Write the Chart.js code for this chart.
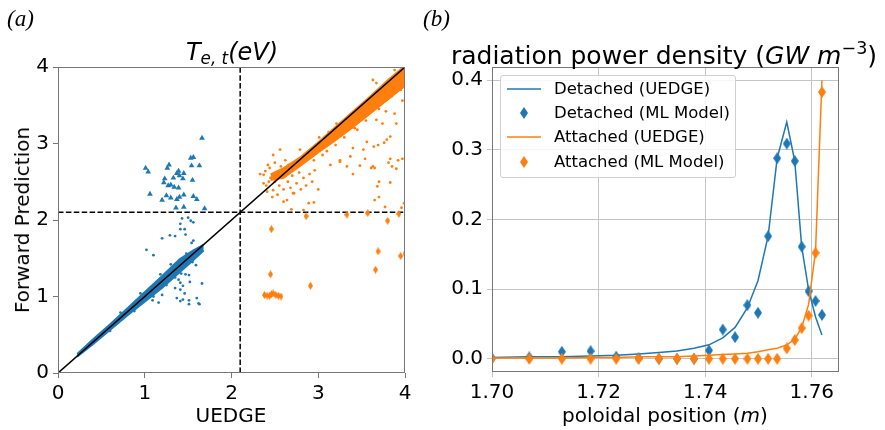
<!DOCTYPE html>
<html>
<head>
<meta charset="utf-8">
<script src="https://cdn.jsdelivr.net/npm/chart.js@4.4.0/dist/chart.umd.min.js"></script>
<style>
  body { margin: 0; background: #fff; font-family: 'DejaVu Sans', sans-serif; }
  #wrap { position: relative; width: 885px; height: 430px; overflow: hidden; }
  canvas { position: absolute; top: 0; }
  #chartA { left: 0; }
  #chartB { left: 440px; }
  .txt { position: absolute; white-space: nowrap; color: #000; line-height: 1; }
  .panel { font-family: 'Liberation Serif', serif; font-style: italic; font-size: 23px; top: 7px; }
  .title { font-size: 24px; top: 40px; transform: translateX(-50%); }
  .xlab { font-size: 20px; top: 405px; transform: translateX(-50%); }
  .ylab { font-size: 20px; left: 22px; top: 220px; transform: translate(-50%, -50%) rotate(-90deg); }
  sub { font-size: 0.7em; vertical-align: -0.25em; }
  sup { font-size: 0.7em; vertical-align: 0.55em; }
  #legend { position: absolute; left: 500px; top: 75px; width: 234px; height: 101px;
            border: 1px solid #d0d0d0; border-radius: 3px; background: rgba(255,255,255,0.85); }
  .row { position: absolute; left: 6px; height: 20px; font-size: 16.5px; line-height: 20px; }
  .row svg { position: absolute; left: 0; top: 4px; }
  .row span { position: absolute; left: 47px; white-space: nowrap; }
</style>
</head>
<body>
<div id="wrap">
  <canvas id="chartA" width="440" height="430"></canvas>
  <canvas id="chartB" width="445" height="430"></canvas>

  <div class="txt panel" style="left:7px">(a)</div>
  <div class="txt panel" style="left:423px">(b)</div>
  <div class="txt title" style="left:232px"><i>T</i><sub><i>e, t</i></sub><i>(eV)</i></div>
  <div class="txt title" style="left:664px; font-size:25px">radiation power density (<i>GW m</i><sup>&minus;3</sup>)</div>
  <div class="txt xlab" style="left:231px">UEDGE</div>
  <div class="txt xlab" style="left:665px">poloidal position (<i>m</i>)</div>
  <div class="txt ylab">Forward Prediction</div>

  <div id="legend">
    <div class="row" style="top:3px"><svg width="34" height="12"><line x1="0" y1="6" x2="34" y2="6" stroke="#1f77b4" stroke-width="1.5"/></svg><span>Detached (UEDGE)</span></div>
    <div class="row" style="top:27px"><svg width="34" height="12"><polygon points="17,0 21,6 17,12 13,6" fill="#1f77b4"/></svg><span>Detached (ML Model)</span></div>
    <div class="row" style="top:51px"><svg width="34" height="12"><line x1="0" y1="6" x2="34" y2="6" stroke="#ff7f0e" stroke-width="1.5"/></svg><span>Attached (UEDGE)</span></div>
    <div class="row" style="top:76px"><svg width="34" height="12"><polygon points="17,0 21,6 17,12 13,6" fill="#ff7f0e"/></svg><span>Attached (ML Model)</span></div>
  </div>
</div>

<script>
// ---------- panel (a): forward prediction vs UEDGE, T_e,t in eV ----------
const axisTicksA = [0, 1, 2, 3, 4];
const threshold = 2.1;

// solid-looking parts of the clouds, given as lower / upper edges
const detBandX  = [0.22, 0.40, 0.60, 0.80, 1.00, 1.20, 1.40, 1.55, 1.68];
const detBandLo = [0.21, 0.37, 0.56, 0.75, 0.93, 1.11, 1.31, 1.46, 1.60];
const detBandHi = [0.25, 0.44, 0.64, 0.85, 1.06, 1.27, 1.49, 1.60, 1.68];

const attBandX  = [2.45, 2.60, 2.80, 3.00, 3.20, 3.40, 3.60, 3.80, 4.00];
const attBandLo = [2.52, 2.55, 2.71, 2.88, 3.04, 3.21, 3.39, 3.57, 3.75];
const attBandHi = [2.60, 2.68, 2.83, 3.02, 3.22, 3.42, 3.62, 3.83, 4.02];

// isolated points [UEDGE, prediction]
const detTriangles = [
  [1.66, 3.07], [1.53, 2.81], [1.56, 2.82], [1.54, 2.71], [1.63, 2.71], [1.01, 2.68],
  [1.04, 2.63], [1.26, 2.68], [1.28, 2.72], [1.39, 2.64], [1.37, 2.61], [1.45, 2.61],
  [1.33, 2.55], [1.40, 2.58], [1.44, 2.54], [1.23, 2.54], [1.22, 2.49], [1.55, 2.52],
  [1.27, 2.45], [1.30, 2.46], [1.34, 2.43], [1.39, 2.42], [1.06, 2.34], [1.25, 2.32],
  [1.30, 2.29], [1.20, 2.26], [1.37, 2.27], [1.40, 2.30], [1.45, 2.33], [1.56, 2.31],
  [1.60, 2.27], [1.36, 2.16], [1.45, 2.17], [1.69, 2.15]
];
const detDots = [
  [1.43, 2.02], [1.50, 2.03], [1.53, 1.99], [1.56, 1.97], [1.41, 1.95], [1.41, 1.88],
  [1.46, 1.88], [1.47, 1.81], [1.29, 1.80], [1.35, 1.79], [1.20, 1.76], [1.56, 1.73],
  [1.54, 1.70], [1.02, 1.61], [1.10, 1.54], [1.59, 1.41], [1.44, 1.37], [1.47, 1.29],
  [1.51, 1.28], [1.39, 1.22], [1.52, 1.19], [1.41, 1.18], [1.66, 1.17], [1.44, 1.14],
  [1.35, 1.11], [1.41, 1.09], [1.46, 1.04], [1.20, 1.02], [1.37, 0.98], [1.44, 0.96],
  [1.51, 0.95], [1.60, 0.98], [1.09, 0.95], [1.16, 0.92], [1.41, 0.94], [1.51, 0.90],
  [1.63, 0.90], [1.62, 0.91], [1.35, 1.25], [1.42, 1.30], [1.55, 1.45], [1.28, 1.22],
  [0.72, 0.79], [0.95, 1.04], [1.18, 1.29], [1.30, 1.42], [1.48, 1.56], [0.60, 0.55],
  [0.88, 0.81], [1.10, 1.00], [1.25, 1.15]
];
const attDots = [
  [3.63, 3.83], [3.67, 3.79], [3.88, 3.96], [3.12, 3.15], [3.01, 3.08], [3.21, 3.26],
  [2.79, 2.92], [3.97, 3.56], [3.88, 3.39], [3.78, 3.42], [3.67, 3.31], [3.74, 3.26],
  [3.90, 3.26], [3.42, 3.20], [3.56, 3.02], [3.64, 2.96], [3.79, 3.05], [3.83, 3.09],
  [3.76, 3.01], [3.69, 2.98], [3.52, 2.92], [3.40, 2.94], [3.37, 2.83], [3.54, 2.80],
  [3.25, 2.78], [3.33, 2.70], [3.63, 2.70], [3.83, 2.80], [3.92, 2.78], [3.97, 2.80],
  [3.90, 2.67], [3.85, 2.70], [3.40, 2.60], [3.70, 2.50], [3.83, 2.49], [3.68, 2.44],
  [3.65, 2.26], [3.70, 2.30], [3.77, 2.17], [3.96, 2.16], [3.99, 2.22], [3.48, 2.71],
  [3.61, 2.68], [3.65, 2.68], [3.81, 2.75], [3.00, 2.40], [2.89, 2.22], [2.95, 2.23],
  [2.60, 2.24], [2.64, 2.26], [2.69, 2.14], [2.83, 2.13], [3.14, 2.72], [3.25, 2.76],
  [3.10, 2.90], [3.20, 2.98], [3.30, 3.08], [3.45, 3.18], [3.55, 3.30], [3.70, 3.45],
  [3.85, 3.62], [3.95, 3.70], [2.95, 2.78], [3.05, 2.85],
  [2.33, 2.60], [2.37, 2.48], [2.41, 2.37], [2.48, 2.39], [2.44, 2.68], [2.37, 2.59],
  [2.42, 2.72], [2.48, 2.85], [2.56, 2.92], [2.62, 2.78], [2.45, 2.55], [2.50, 2.50],
  [2.52, 2.62], [2.55, 2.45], [2.58, 2.55], [2.60, 2.40], [2.62, 2.60], [2.65, 2.50],
  [2.68, 2.42], [2.70, 2.58], [2.72, 2.35], [2.75, 2.48], [2.78, 2.62], [2.80, 2.40],
  [2.83, 2.55], [2.86, 2.45], [2.90, 2.60], [2.93, 2.50], [2.96, 2.65], [2.71, 2.35],
  [2.40, 2.45], [2.47, 2.30], [2.53, 2.33], [2.57, 2.70], [2.66, 2.72], [2.74, 2.75],
  [2.50, 2.75], [2.43, 2.50], [2.39, 2.64]
];
const attDiamonds = [
  [2.86, 2.05], [3.33, 2.07], [3.57, 2.09], [3.80, 1.99], [3.93, 2.08], [2.46, 1.88],
  [3.69, 1.59], [3.95, 1.53], [4.00, 1.56], [2.45, 1.29], [3.66, 1.35], [2.91, 1.14],
  [2.38, 1.02], [2.41, 1.01], [2.44, 1.01], [2.46, 1.03], [2.48, 1.04], [2.51, 1.02],
  [2.54, 1.01], [2.57, 1.00]
];

// ---------- panel (b): radiation power density along poloidal position ----------
const poloidalPos   = [1.7000, 1.7070, 1.7131, 1.7185, 1.7233, 1.7275, 1.7313, 1.7347, 1.7379, 1.7407, 1.7433,
                       1.7456, 1.7479, 1.7499, 1.7518, 1.7535, 1.7553, 1.7568, 1.7581, 1.7594, 1.7607, 1.7619];
const detachedUedge = [0.002, 0.003, 0.003, 0.004, 0.005, 0.007, 0.009, 0.011, 0.015, 0.020, 0.030,
                       0.045, 0.073, 0.112, 0.176, 0.288, 0.340, 0.284, 0.161, 0.099, 0.060, 0.034];
const detachedML    = [0.001, 0.002, 0.010, 0.011, 0.003, 0.001, 0.000, 0.000, 0.000, 0.012, 0.042,
                       0.031, 0.077, 0.066, 0.176, 0.288, 0.309, 0.284, 0.161, 0.097, 0.083, 0.063];
const attachedUedge = [0.001, 0.001, 0.001, 0.002, 0.002, 0.003, 0.003, 0.003, 0.004, 0.005, 0.006,
                       0.007, 0.008, 0.010, 0.013, 0.015, 0.020, 0.028, 0.045, 0.078, 0.155, 0.400];
const attachedML    = [0.000, 0.000, 0.000, 0.000, 0.000, 0.000, 0.000, 0.000, 0.000, 0.000, 0.000,
                       0.000, 0.000, 0.000, 0.000, 0.000, 0.015, 0.027, 0.044, 0.062, 0.152, 0.383];
const xTicksB = [1.70, 1.72, 1.74, 1.76];
const yTicksB = [0.0, 0.1, 0.2, 0.3, 0.4];

const BLUE = '#1f77b4';
const ORANGE = '#ff7f0e';
const SPINE = '#777777';
const TICK_FONT = { family: 'DejaVu Sans', size: 20 };

const pts = arr => arr.map(p => ({ x: p[0], y: p[1] }));
const zip = (xs, ys) => xs.map((x, i) => ({ x, y: ys[i] }));

// matplotlib-like thin diamond marker
function thinDiamond(color, w, h) {
  const c = document.createElement('canvas');
  c.width = w; c.height = h;
  const g = c.getContext('2d');
  g.fillStyle = color;
  g.beginPath();
  g.moveTo(w / 2, 0); g.lineTo(w, h / 2); g.lineTo(w / 2, h); g.lineTo(0, h / 2);
  g.closePath();
  g.fill();
  return c;
}

// box around the plot area
const frame = {
  id: 'frame',
  afterDatasetsDraw(chart) {
    const { ctx, chartArea: a } = chart;
    ctx.save();
    ctx.strokeStyle = SPINE;
    ctx.lineWidth = 1;
    ctx.strokeRect(Math.round(a.left) + 0.5, Math.round(a.top) + 0.5,
                   Math.round(a.right - a.left) - 1, Math.round(a.bottom - a.top) - 1);
    ctx.restore();
  }
};

function axis(min, max, tickList, fmt, size, isX, gridOn) {
  return {
    type: 'linear', min, max,
    afterBuildTicks: s => { s.ticks = tickList.map(v => ({ value: v })); },
    afterFit: s => { if (isX) s.height = size; else s.width = size; },
    grid: {
      display: true, drawOnChartArea: gridOn, drawTicks: true, tickLength: 5,
      color: gridOn ? '#c4c4c4' : SPINE, lineWidth: 1
    },
    border: { display: false },
    ticks: { color: '#000', font: TICK_FONT, padding: 4, maxRotation: 0, autoSkip: false, callback: fmt }
  };
}

Chart.defaults.font.family = 'DejaVu Sans';
Chart.defaults.animation = false;

const lo = axisTicksA[0], hi = axisTicksA[axisTicksA.length - 1];

new Chart(document.getElementById('chartA'), {
  type: 'scatter',
  data: {
    datasets: [
      { type: 'line', data: [{ x: lo, y: lo }, { x: hi, y: hi }], borderColor: '#000', borderWidth: 1.5,
        pointRadius: 0, order: 0 },
      { data: pts(detTriangles), pointStyle: 'triangle', pointRadius: 3.3, backgroundColor: BLUE,
        borderWidth: 0, order: 1 },
      { data: pts(detDots), pointRadius: 1.4, backgroundColor: BLUE, borderWidth: 0, order: 1 },
      { data: pts(attDots), pointRadius: 1.4, backgroundColor: ORANGE, borderWidth: 0, order: 1 },
      { data: pts(attDiamonds), pointStyle: thinDiamond(ORANGE, 5, 8), backgroundColor: ORANGE,
        borderWidth: 0, order: 1 },
      { type: 'line', data: [{ x: threshold, y: lo }, { x: threshold, y: hi }], borderColor: '#000',
        borderWidth: 1.5, borderDash: [5.5, 2.4], pointRadius: 0, order: 2 },
      { type: 'line', data: [{ x: lo, y: threshold }, { x: hi, y: threshold }], borderColor: '#000',
        borderWidth: 1.5, borderDash: [5.5, 2.4], pointRadius: 0, order: 2 },
      { type: 'line', data: zip(detBandX, detBandLo), borderColor: BLUE, borderWidth: 1.5, pointRadius: 0,
        fill: false, order: 3 },
      { type: 'line', data: zip(detBandX, detBandHi), borderColor: BLUE, borderWidth: 1.5, pointRadius: 0,
        backgroundColor: BLUE, fill: '-1', order: 3 },
      { type: 'line', data: zip(attBandX, attBandLo), borderColor: ORANGE, borderWidth: 1.5, pointRadius: 0,
        fill: false, order: 3 },
      { type: 'line', data: zip(attBandX, attBandHi), borderColor: ORANGE, borderWidth: 1.5, pointRadius: 0,
        backgroundColor: ORANGE, fill: '-1', order: 3 }
    ]
  },
  options: {
    responsive: false,
    layout: { padding: { left: 0, top: 67, right: 35, bottom: 0 } },
    plugins: { legend: { display: false }, tooltip: { enabled: false } },
    scales: {
      x: axis(0, 4, axisTicksA, v => String(v), 57, true, false),
      y: axis(0, 4, axisTicksA, v => String(v), 58, false, false)
    }
  },
  plugins: [frame]
});

new Chart(document.getElementById('chartB'), {
  type: 'line',
  data: {
    datasets: [
      { label: 'Detached (UEDGE)', data: zip(poloidalPos, detachedUedge), borderColor: BLUE,
        borderWidth: 1.5, pointRadius: 0, order: 3 },
      { label: 'Detached (ML Model)', data: zip(poloidalPos, detachedML), showLine: false,
        pointStyle: thinDiamond(BLUE, 8, 12), backgroundColor: BLUE, borderWidth: 0, order: 4 },
      { label: 'Attached (UEDGE)', data: zip(poloidalPos, attachedUedge), borderColor: ORANGE,
        borderWidth: 1.5, pointRadius: 0, order: 1 },
      { label: 'Attached (ML Model)', data: zip(poloidalPos, attachedML), showLine: false,
        pointStyle: thinDiamond(ORANGE, 8, 12), backgroundColor: ORANGE, borderWidth: 0, order: 2 }
    ]
  },
  options: {
    responsive: false,
    layout: { padding: { left: 0, top: 67, right: 46, bottom: 0 } },
    plugins: { legend: { display: false }, tooltip: { enabled: false } },
    scales: {
      x: axis(1.70, 1.7651, xTicksB, v => v.toFixed(2), 58, true, true),
      y: axis(-0.019, 0.419, yTicksB, v => v.toFixed(1), 52, false, true)
    }
  },
  plugins: [frame]
});
</script>
</body>
</html>
